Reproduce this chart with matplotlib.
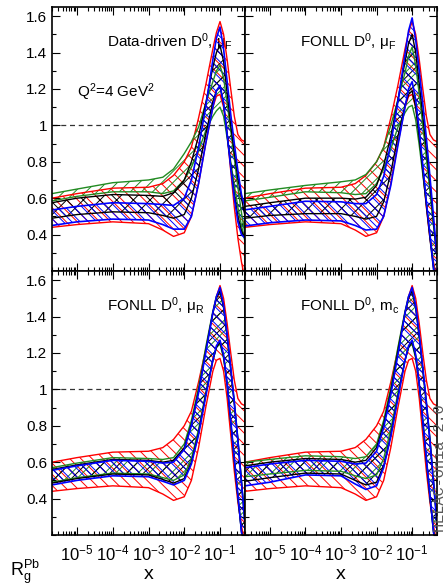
import numpy as np
import matplotlib
matplotlib.use("Agg")
import matplotlib.pyplot as plt
from matplotlib.ticker import (LogLocator, MultipleLocator, NullFormatter,
                               FixedLocator, FuncFormatter)

plt.rcParams['font.family'] = ['Liberation Sans', 'DejaVu Sans']
plt.rcParams['mathtext.fontset'] = 'custom'
plt.rcParams['mathtext.rm'] = 'Liberation Sans'
plt.rcParams['mathtext.it'] = 'Liberation Sans:italic'
plt.rcParams['mathtext.bf'] = 'Liberation Sans:bold'
plt.rcParams['hatch.linewidth'] = 0.7

# ---- data: log10(x) grid and band edges of R_g^Pb at Q^2 = 4 GeV^2 ----
log_x = [-5.7, -5.0, -4.0, -3.0, -2.6, -2.3, -2.0, -1.8, -1.6, -1.4,
         -1.2, -1.1, -1.0, -0.9, -0.8, -0.7, -0.6, -0.5, -0.4, -0.3]

# original nPDF uncertainty (same in every panel)
red_hi = [0.60, 0.625, 0.655, 0.66, 0.68, 0.725, 0.80, 0.88, 1.04, 1.22,
          1.42, 1.51, 1.57, 1.50, 1.36, 1.20, 1.05, 0.95, 0.92, 0.91]
red_lo = [0.44, 0.455, 0.47, 0.46, 0.425, 0.39, 0.41, 0.50, 0.68, 0.90,
          1.10, 1.16, 1.17, 1.10, 0.95, 0.75, 0.55, 0.38, 0.25, 0.15]

# Data-driven D0, muF
dd_green_hi = [0.625, 0.65, 0.685, 0.70, 0.715, 0.76, 0.845, 0.91, 0.99, 1.12,
               1.24, 1.30, 1.33, 1.26, 1.12, 0.97, 0.82, 0.66, 0.52, 0.40]
dd_green_lo = [0.585, 0.61, 0.635, 0.635, 0.625, 0.64, 0.70, 0.77, 0.86, 0.97,
               1.05, 1.08, 1.10, 1.05, 0.93, 0.80, 0.67, 0.55, 0.45, 0.36]
dd_black_hi = [0.575, 0.60, 0.62, 0.615, 0.61, 0.63, 0.70, 0.80, 0.94, 1.12,
               1.32, 1.40, 1.44, 1.35, 1.18, 1.00, 0.85, 0.71, 0.60, 0.50]
dd_black_lo = [0.49, 0.51, 0.525, 0.52, 0.505, 0.49, 0.51, 0.60, 0.76, 0.95,
               1.13, 1.19, 1.21, 1.12, 0.95, 0.78, 0.62, 0.50, 0.42, 0.38]
dd_blue_hi = [0.535, 0.555, 0.575, 0.57, 0.565, 0.56, 0.60, 0.70, 0.88, 1.10,
              1.36, 1.48, 1.54, 1.42, 1.24, 1.06, 0.90, 0.75, 0.62, 0.55]
dd_blue_lo = [0.45, 0.47, 0.485, 0.48, 0.455, 0.43, 0.43, 0.50, 0.68, 0.90,
              1.10, 1.19, 1.22, 1.12, 0.95, 0.77, 0.60, 0.47, 0.40, 0.38]

# FONLL D0, muF
mf_green_hi = [0.625, 0.645, 0.67, 0.69, 0.70, 0.73, 0.80, 0.88, 1.00, 1.14,
               1.29, 1.38, 1.43, 1.33, 1.17, 1.00, 0.82, 0.64, 0.45, 0.28]
mf_green_lo = [0.585, 0.605, 0.635, 0.63, 0.62, 0.625, 0.68, 0.76, 0.87, 0.99,
               1.07, 1.10, 1.11, 1.03, 0.89, 0.73, 0.57, 0.40, 0.23, 0.08]
mf_black_hi = [0.555, 0.575, 0.60, 0.60, 0.595, 0.605, 0.67, 0.78, 0.94, 1.14,
               1.35, 1.45, 1.50, 1.40, 1.23, 1.05, 0.87, 0.68, 0.47, 0.27]
mf_black_lo = [0.49, 0.505, 0.515, 0.515, 0.50, 0.485, 0.50, 0.58, 0.74, 0.94,
               1.11, 1.17, 1.19, 1.10, 0.93, 0.75, 0.56, 0.38, 0.21, 0.06]
mf_blue_hi = [0.536, 0.555, 0.583, 0.58, 0.57, 0.57, 0.62, 0.72, 0.90, 1.13,
              1.39, 1.52, 1.59, 1.47, 1.30, 1.12, 0.93, 0.72, 0.50, 0.28]
mf_blue_lo = [0.447, 0.465, 0.48, 0.475, 0.45, 0.425, 0.43, 0.50, 0.67, 0.89,
              1.10, 1.20, 1.24, 1.14, 0.97, 0.78, 0.58, 0.40, 0.22, 0.06]

# FONLL D0, muR
mr_green_hi = [0.57, 0.595, 0.625, 0.62, 0.615, 0.625, 0.70, 0.83, 1.01, 1.23,
               1.43, 1.51, 1.54, 1.45, 1.29, 1.11, 0.93, 0.73, 0.50, 0.27]
mr_green_lo = [0.49, 0.515, 0.54, 0.535, 0.515, 0.50, 0.53, 0.62, 0.78, 0.98,
               1.16, 1.23, 1.25, 1.17, 1.02, 0.82, 0.61, 0.41, 0.22, 0.06]
mr_black_hi = [0.56, 0.585, 0.615, 0.61, 0.60, 0.61, 0.68, 0.81, 0.99, 1.21,
               1.42, 1.50, 1.54, 1.45, 1.29, 1.11, 0.92, 0.72, 0.49, 0.26]
mr_black_lo = [0.485, 0.51, 0.535, 0.53, 0.505, 0.485, 0.51, 0.60, 0.76, 0.97,
               1.16, 1.23, 1.26, 1.18, 1.03, 0.82, 0.61, 0.41, 0.22, 0.06]
mr_blue_hi = [0.555, 0.58, 0.61, 0.605, 0.595, 0.60, 0.67, 0.80, 0.98, 1.20,
              1.42, 1.51, 1.56, 1.46, 1.30, 1.12, 0.93, 0.72, 0.49, 0.26]
mr_blue_lo = [0.475, 0.50, 0.525, 0.52, 0.495, 0.475, 0.50, 0.59, 0.75, 0.96,
              1.16, 1.24, 1.27, 1.19, 1.03, 0.83, 0.62, 0.42, 0.22, 0.06]

# FONLL D0, mc
mc_green_hi = [0.60, 0.615, 0.635, 0.63, 0.62, 0.63, 0.70, 0.83, 1.01, 1.23,
               1.43, 1.51, 1.54, 1.45, 1.29, 1.11, 0.93, 0.73, 0.50, 0.27]
mc_green_lo = [0.52, 0.535, 0.555, 0.55, 0.525, 0.51, 0.53, 0.62, 0.78, 0.98,
               1.16, 1.23, 1.25, 1.17, 1.02, 0.82, 0.61, 0.41, 0.22, 0.06]
mc_black_hi = [0.58, 0.60, 0.62, 0.615, 0.60, 0.61, 0.68, 0.81, 0.99, 1.21,
               1.42, 1.50, 1.54, 1.45, 1.29, 1.11, 0.92, 0.72, 0.49, 0.26]
mc_black_lo = [0.495, 0.515, 0.54, 0.535, 0.50, 0.475, 0.49, 0.58, 0.75, 0.96,
               1.16, 1.23, 1.26, 1.18, 1.03, 0.82, 0.61, 0.41, 0.22, 0.06]
mc_blue_hi = [0.57, 0.59, 0.61, 0.605, 0.59, 0.595, 0.66, 0.79, 0.97, 1.19,
              1.42, 1.51, 1.56, 1.46, 1.30, 1.12, 0.93, 0.72, 0.49, 0.26]
mc_blue_lo = [0.47, 0.49, 0.53, 0.525, 0.48, 0.45, 0.47, 0.57, 0.74, 0.95,
              1.16, 1.24, 1.27, 1.19, 1.03, 0.83, 0.62, 0.42, 0.22, 0.06]

y_ticks = [0.4, 0.6, 0.8, 1.0, 1.2, 1.4, 1.6]

panel_titles = [r'Data-driven D$^{\rm 0}$, μ$_{\rm F}$',
                r'FONLL D$^{\rm 0}$, μ$_{\rm F}$',
                r'FONLL D$^{\rm 0}$, μ$_{\rm R}$',
                r'FONLL D$^{\rm 0}$, m$_{\rm c}$']

panel_bands = [
    (dd_green_lo, dd_green_hi, dd_black_lo, dd_black_hi, dd_blue_lo, dd_blue_hi),
    (mf_green_lo, mf_green_hi, mf_black_lo, mf_black_hi, mf_blue_lo, mf_blue_hi),
    (mr_green_lo, mr_green_hi, mr_black_lo, mr_black_hi, mr_blue_lo, mr_blue_hi),
    (mc_green_lo, mc_green_hi, mc_black_lo, mc_black_hi, mc_blue_lo, mc_blue_hi),
]

RED = '#ff0000'
GREEN = '#228b22'
BLUE = '#0000ff'
BLACK = '#000000'

x = 10.0 ** np.array(log_x)

W, H = 446, 588
fig = plt.figure(figsize=(W / 100, H / 100), dpi=100)

col_left = [52, 245]
col_width = [193, 192]
row_top = [7, 271]
row_height = 264


def draw_band(ax, lo, hi, color, hatch, lw):
    ax.fill_between(x, lo, hi, facecolor='none', edgecolor=color,
                    hatch=hatch, linewidth=0)
    ax.plot(x, lo, color=color, lw=lw)
    ax.plot(x, hi, color=color, lw=lw)


axes = []
for i in range(4):
    r, c = divmod(i, 2)
    rect = [col_left[c] / W, 1 - (row_top[r] + row_height) / H,
            col_width[c] / W, row_height / H]
    ax = fig.add_axes(rect)
    axes.append(ax)
    g_lo, g_hi, k_lo, k_hi, b_lo, b_hi = panel_bands[i]

    ax.axhline(1.0, color='0.2', lw=0.9, ls=(0, (4, 3)), zorder=1)
    draw_band(ax, red_lo, red_hi, RED, '\\\\\\', 1.0)
    draw_band(ax, g_lo, g_hi, GREEN, '///', 1.0)
    draw_band(ax, k_lo, k_hi, BLACK, 'xx', 1.0)
    draw_band(ax, b_lo, b_hi, BLUE, '\\\\\\\\', 1.2)

    ax.set_xscale('log')
    ax.set_xlim(2e-6, 0.5)
    ax.set_ylim(0.2, 1.65)
    ax.yaxis.set_major_locator(FixedLocator(y_ticks))
    ax.yaxis.set_minor_locator(MultipleLocator(0.1))
    ax.xaxis.set_major_locator(LogLocator(base=10, numticks=20))
    ax.xaxis.set_minor_locator(LogLocator(base=10, subs=np.arange(2, 10), numticks=20))
    ax.xaxis.set_minor_formatter(NullFormatter())
    ax.tick_params(which='both', direction='in', top=True, right=True,
                   labelsize=11, width=0.8)
    ax.tick_params(which='major', length=6)
    ax.tick_params(which='minor', length=3)
    for s in ax.spines.values():
        s.set_linewidth(1.2)
    ax.yaxis.set_major_formatter(FuncFormatter(lambda v, p: f'{v:g}'))
    if r == 0:
        ax.tick_params(labelbottom=False)
    else:
        ax.tick_params(axis='x', labelsize=12, pad=6)
        ax.set_xlabel('x', fontsize=14, labelpad=2)
    if c == 1:
        ax.tick_params(labelleft=False)

    ax.text(0.285, 0.85, panel_titles[i], transform=ax.transAxes,
            fontsize=11, ha='left', va='baseline', zorder=0)

axes[0].text(0.13, 0.66, r'Q$^{\rm 2}$=4 GeV$^{\rm 2}$', transform=axes[0].transAxes,
             fontsize=11, ha='left', va='baseline')

fig.text(25 / W, 1 - 572 / H, r'R$_{\rm g}^{\rm Pb}$', fontsize=13,
         ha='center', va='center')
fig.text(440 / W, 1 - 468 / H, 'HELAC-Onia 2.0', rotation=90, fontsize=11,
         family='Liberation Mono', color='0.35', ha='center', va='center')

fig.savefig('out.png', dpi=100)
